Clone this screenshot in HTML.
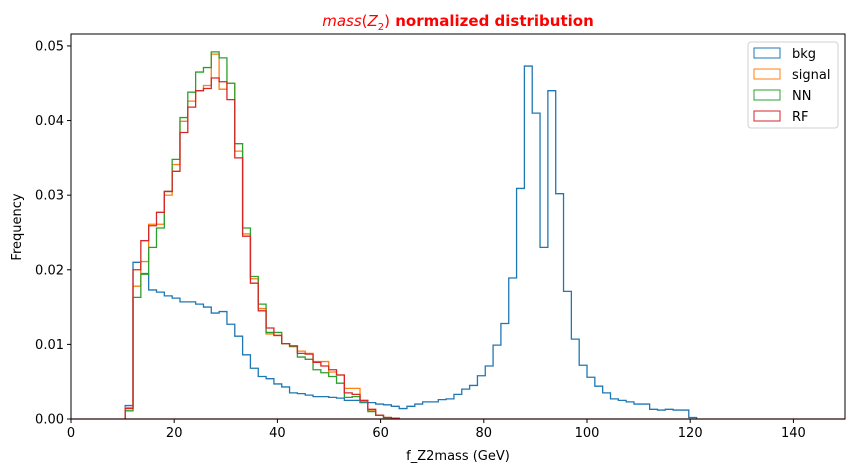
<!DOCTYPE html>
<html><head><meta charset="utf-8">
<style>
body{margin:0;background:#fff;}
svg{display:block;font-family:"DejaVu Sans","Liberation Sans",sans-serif;}
</style></head>
<body>
<svg id="chart" width="855" height="472" viewBox="0 0 855 472" xmlns="http://www.w3.org/2000/svg">
<text x="458" y="26" text-anchor="middle" font-size="15" fill="#ff0000" font-weight="bold"><tspan font-style="italic" font-weight="normal">mass</tspan><tspan font-weight="normal">(</tspan><tspan font-style="italic" font-weight="normal">Z</tspan><tspan font-size="10" dy="4" font-weight="normal">2</tspan><tspan dy="-4" font-weight="normal">)</tspan> normalized distribution</text>
<g id="plot"></g>
<rect x="71" y="34" width="774" height="385" fill="none" stroke="#000" stroke-width="1"/>
<text x="458" y="460" text-anchor="middle" font-size="13">f_Z2mass (GeV)</text>
<text transform="translate(21,227) rotate(-90)" text-anchor="middle" font-size="13">Frequency</text>
<g>
<rect x="748" y="42" width="90" height="86" rx="3" fill="#fff" fill-opacity="0.8" stroke="#d0d0d0"/>
<rect x="754" y="48" width="26" height="10" fill="none" stroke="#1f77b4"/>
<text x="792" y="58" font-size="13">bkg</text>
<rect x="754" y="69" width="26" height="10" fill="none" stroke="#ff7f0e"/>
<text x="792" y="79" font-size="13">signal</text>
<rect x="754" y="90" width="26" height="10" fill="none" stroke="#2ca02c"/>
<text x="792" y="100" font-size="13">NN</text>
<rect x="754" y="111" width="26" height="10" fill="none" stroke="#d62728"/>
<text x="792" y="121" font-size="13">RF</text>
</g>
</svg>
<script>
const binStart = 10.5;
const binWidth = 1.517;
const bkgValues = [0.0018,0.0210,0.0195,0.0173,0.0170,0.0165,0.0162,0.0157,0.0157,0.0154,0.0150,0.0142,0.0144,0.0127,0.0111,0.0086,0.0068,0.0057,0.0054,0.0047,0.0043,0.0035,0.0034,0.0032,0.0030,0.0030,0.0029,0.0028,0.0025,0.0025,0.0022,0.0022,0.0020,0.0019,0.0017,0.0014,0.0017,0.0020,0.0023,0.0023,0.0026,0.0027,0.0033,0.0040,0.0045,0.0058,0.0071,0.0099,0.0128,0.0189,0.0309,0.0473,0.0410,0.0230,0.0440,0.0302,0.0171,0.0107,0.0072,0.0056,0.0044,0.0035,0.0027,0.0025,0.0023,0.0020,0.0020,0.0013,0.0012,0.0013,0.0012,0.0012,0.0002];
const signalValues = [0.0015,0.0178,0.0211,0.0261,0.0261,0.0300,0.0341,0.0399,0.0426,0.0440,0.0447,0.0489,0.0442,0.0450,0.0359,0.0248,0.0188,0.0148,0.0114,0.0112,0.0101,0.0098,0.0091,0.0088,0.0077,0.0077,0.0063,0.0059,0.0041,0.0041,0.0025,0.0012,0.0005,0.0002,0.0001];
const nnValues = [0.0011,0.0163,0.0194,0.0230,0.0256,0.0305,0.0348,0.0404,0.0438,0.0465,0.0471,0.0492,0.0484,0.0450,0.0369,0.0256,0.0191,0.0154,0.0116,0.0116,0.0101,0.0097,0.0083,0.0080,0.0066,0.0062,0.0057,0.0048,0.0029,0.0030,0.0023,0.0010,0.0005,0.0002,0.0001];
const rfValues = [0.0014,0.0200,0.0239,0.0259,0.0277,0.0305,0.0332,0.0384,0.0418,0.0440,0.0443,0.0457,0.0452,0.0428,0.0350,0.0245,0.0182,0.0145,0.0122,0.0112,0.0101,0.0098,0.0088,0.0087,0.0076,0.0071,0.0066,0.0059,0.0035,0.0033,0.0025,0.0013,0.0005,0.0002,0.0001];
const xTicks = [0,20,40,60,80,100,120,140];
const yTicks = [0,0.01,0.02,0.03,0.04,0.05];
const yTickLabels = ["0.00","0.01","0.02","0.03","0.04","0.05"];

const X0=71,X1=845,Y0=419,Y1=34;
const xMin=0,xMax=150,yMin=0,yMax=0.0516;
function xs(v){return X0+(v-xMin)/(xMax-xMin)*(X1-X0);}
function ys(v){return Y0-(v-yMin)/(yMax-yMin)*(Y0-Y1);}
const NS="http://www.w3.org/2000/svg";
const g=document.getElementById('plot');

xTicks.forEach(t=>{
  const l=document.createElementNS(NS,'line');
  
  
  l.setAttribute('x1',xs(t));l.setAttribute('x2',xs(t));l.setAttribute('y1',Y0);l.setAttribute('y2',Y0+4);
  l.setAttribute('stroke','#000');g.appendChild(l);
  const tx=document.createElementNS(NS,'text');
  
  
  tx.setAttribute('x',xs(t));tx.setAttribute('y',Y0+18);tx.setAttribute('text-anchor','middle');tx.setAttribute('font-size','13');
  tx.textContent=t;g.appendChild(tx);
});
yTicks.forEach((t,i)=>{
  const l=document.createElementNS(NS,'line');
  
  
  l.setAttribute('x1',X0-4);l.setAttribute('x2',X0);l.setAttribute('y1',ys(t));l.setAttribute('y2',ys(t));
  l.setAttribute('stroke','#000');g.appendChild(l);
  const tx=document.createElementNS(NS,'text');
  
  
  tx.setAttribute('x',X0-7);tx.setAttribute('y',ys(t)+4.5);tx.setAttribute('text-anchor','end');tx.setAttribute('font-size','13');
  tx.textContent=yTickLabels[i];g.appendChild(tx);
});

function drawStep(vals,color,name){
  let d='M'+xs(binStart)+','+ys(0);
  vals.forEach((v,i)=>{
    d+=' V'+ys(v).toFixed(2)+' H'+xs(binStart+(i+1)*binWidth).toFixed(2);
  });
  d+=' V'+ys(0);
  const p=document.createElementNS(NS,'path');
  
  
  p.setAttribute('d',d);p.setAttribute('fill','none');p.setAttribute('stroke',color);p.setAttribute('stroke-width','1.3');
  g.appendChild(p);
}
const base=document.createElementNS(NS,'line');


base.setAttribute('x1',X0);base.setAttribute('x2',X1);base.setAttribute('y1',ys(0));base.setAttribute('y2',ys(0));
base.setAttribute('stroke','#d62728');base.setAttribute('stroke-width','1.3');
g.appendChild(base);
drawStep(bkgValues,'#1f77b4','bkg-histogram');
drawStep(signalValues,'#ff7f0e','signal-histogram');
drawStep(nnValues,'#2ca02c','nn-histogram');
drawStep(rfValues,'#d62728','rf-histogram');
</script>
</body></html>
